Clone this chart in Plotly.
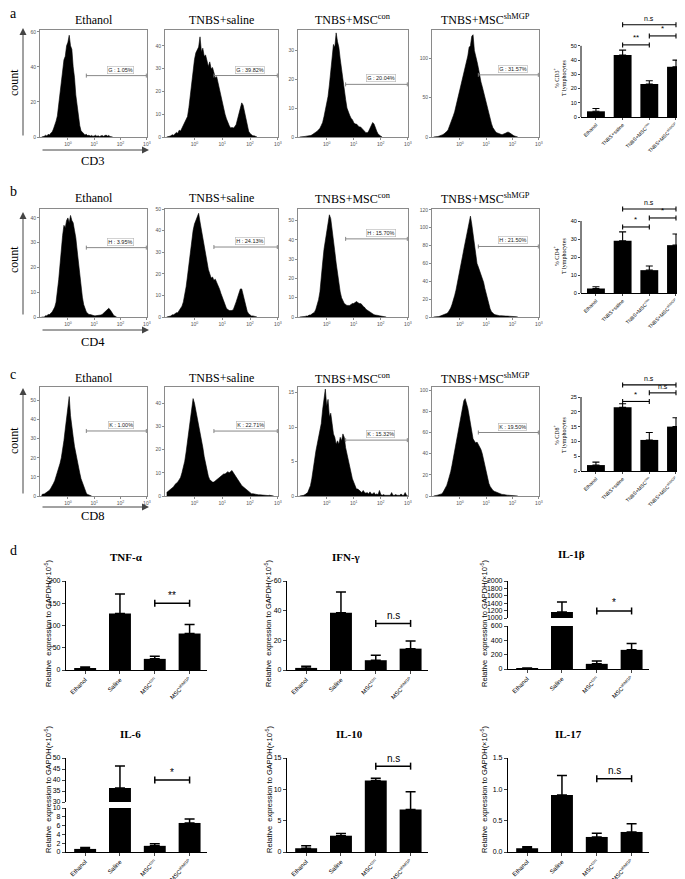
import plotly.graph_objects as go

W, H = 685, 879
SERIF = "Liberation Serif"
SANS = "Liberation Sans"

# ---------------- flow cytometry histograms ----------------
# counts per 0.05-decade bin, first bin centred at 10^-1
LOG_START = -1.0
LOG_STEP = 0.05

CD3_ETHANOL = [0, 0, 0.4, 1, 0.6, 1.5, 1.2, 2.2, 2.8, 4.5, 6.5, 9, 12, 19, 23, 32, 36, 44, 46, 52,
               54, 58, 52, 50, 40, 34, 24, 17, 10, 6.5, 3.5, 2.5, 1.8, 1.2, 1.5, 0.8, 1, 0.5, 0.9, 0.4,
               0.6, 1, 0.4, 0.7, 0.3, 0.6, 0.9, 0.4, 0.8, 1.1, 0.5, 0.9, 0.3, 0.2, 0]
CD3_SALINE = [0, 0, 0.3, 0.5, 1, 0.8, 1.5, 2, 1.6, 3, 2.6, 4, 5.2, 6, 7.5, 9, 13, 18, 24, 30,
              34, 37, 38, 39.5, 44, 37.5, 39, 35.5, 36, 33.5, 31, 33, 30, 30.5, 28, 26, 26.5, 23.5, 21, 18,
              15, 13, 10, 8, 6, 5, 4, 4.2, 4, 4.5, 5.5, 8, 11, 13, 15, 14, 11, 7, 4, 2.5,
              1.5, 1, 0.5, 0.5, 0.2, 0]
CD3_MSC_CON = [0, 0, 0, 0, 0.2, 0.3, 0.3, 0.5, 0.5, 0.7, 1, 1.2, 1.5, 2, 2.5, 3, 4, 5, 7, 9,
               11, 14, 18, 22, 26, 32, 31, 36, 33, 31, 27, 23, 19, 15, 13, 10, 8.5, 7.5, 6.5, 6,
               5, 4.5, 4.5, 4, 3.5, 3.5, 3, 2.5, 2, 1.5, 1.5, 2, 3, 4, 5, 4.5, 3, 2, 1, 0.5,
               0.3, 0]
CD3_MSC_SHMGP = [0, 0, 0, 0.5, 1, 1.5, 2, 3, 4, 5, 7, 9, 13, 17, 22, 27, 32, 39, 46, 53,
                 60, 67, 74, 82, 89, 96, 103, 114, 116, 128, 130, 110, 104, 96, 88, 78, 70, 64, 57, 51,
                 44, 36, 29, 22, 17, 12, 9, 7, 5.5, 4.5, 4, 3.5, 3, 3.5, 4, 5, 6, 6, 5, 3.5,
                 2, 1.5, 1, 0.5, 0]

CD4_ETHANOL = [0, 0, 0, 0.5, 0.5, 1, 1, 1.5, 2, 3, 4, 6, 10, 15, 21, 28, 33, 37, 36, 39,
               40, 38, 41, 39, 38, 35, 32, 27, 22, 17, 12, 8, 5, 3, 2, 1.5, 1, 1, 0.8, 0.5,
               0.5, 0.5, 0.5, 0.5, 0.5, 0.8, 1, 1.5, 2, 2.5, 3, 3.5, 3, 2, 1, 0.5, 0.3, 0]
CD4_SALINE = [0, 0, 0.3, 0.5, 1, 1, 1.5, 2, 2, 3, 4, 5, 7, 10, 14, 19, 24, 30, 36, 40,
              43, 45, 47, 48, 44, 40, 37, 33, 29, 25, 22, 20, 18, 18.5, 17, 17.5, 16, 15, 13, 11,
              9, 7, 5, 4, 3.5, 3, 3, 3, 3.5, 5, 7, 9, 11, 13, 13, 10, 7, 4, 2.5, 1.5,
              1, 0.5, 0.5, 0.3, 0.3, 0]
CD4_MSC_CON = [0, 0, 0, 0, 0.3, 0.5, 0.5, 1, 1, 1.5, 2, 2.5, 4, 6, 9, 13, 19, 28, 35, 40,
               44, 48, 53, 51, 46, 40, 34, 28, 22, 17, 13, 10, 8, 7, 6.5, 6, 6, 6, 6.5, 7,
               7, 7.5, 8, 7.5, 7, 7, 6.5, 5.5, 5, 4, 3.5, 3, 2.5, 2, 1.5, 1.2, 1, 1, 0.8, 0.6,
               0.5, 0.4, 0.3, 0.2, 0]
CD4_MSC_SHMGP = [0, 0, 0, 0.5, 0.5, 1, 1.5, 2, 2.5, 3, 4, 5, 7, 10, 14, 18, 24, 30, 37, 45,
                 52, 60, 68, 76, 84, 92, 98, 106, 113, 104, 92, 80, 68, 60, 56, 52, 49, 45, 39, 32,
                 26, 20, 14, 9, 6, 4, 3, 2.5, 2, 1.8, 1.5, 1.5, 1.2, 1.2, 1, 1, 1, 1, 0.8, 0.8,
                 0.6, 0.5, 0.4, 0.3, 0]

CD8_ETHANOL = [0.5, 1, 1, 1.5, 2, 2.5, 3, 4, 5, 6.5, 8, 10, 12, 15, 17, 20, 24, 29, 35, 42,
               48, 52, 42, 35, 31, 26, 22, 18, 15, 12, 9, 7, 4.5, 2.5, 1.5, 0.8, 0.5, 0.3, 0]
CD8_SALINE = [1.5, 2, 2.5, 3, 3.5, 4, 5, 5.5, 6, 7, 8, 10, 12, 15, 19, 24, 29, 34, 38, 42,
              40, 37, 34, 31, 28, 25, 21, 17, 14, 11, 8.5, 7, 6.5, 6, 6, 6.5, 7, 7.5, 8, 8.5,
              9, 9.5, 9.5, 10, 10.5, 10, 10.5, 11, 10, 9, 8, 7, 6, 5, 4.5, 4, 3.5, 3, 2.5, 2,
              1.5, 1, 1, 0.8, 0.6, 0.5, 0.5, 0.5, 0.4, 0.3, 0.3, 0.3, 0.3, 0.2, 0.3, 0.2, 0.2, 0]
CD8_MSC_CON = [0, 0, 0, 0.1, 0.2, 0.3, 0.5, 1, 1.5, 2.5, 4, 5.5, 6.5, 7.5, 8.5, 9.5, 10.5, 12.5, 14.5, 15.5,
               13, 14, 11.5, 12, 10.5, 9, 8.5, 7.5, 8, 7.5, 8.5, 8, 9, 8.5, 7, 6, 5, 4.5, 3.5, 2.5,
               2, 1.5, 1, 1, 0.8, 0.6, 0.5, 0.8, 0.5, 0.4, 0.5, 0.3, 0.6, 0.3, 0.3, 0.5, 0.2, 0.3, 0.2, 0.8,
               0.2, 0.1, 0.2, 0.1, 0.1, 0.2, 0.1, 0.1, 0.5, 0.1, 0.1, 0.2, 0.1, 0.1, 0.1, 0.3, 0.1, 0.1, 0.5, 0.1, 0]
CD8_MSC_SHMGP = [0, 0, 0.5, 0.8, 1, 1.5, 2, 3, 5, 7, 10, 14, 18, 23, 29, 36, 43, 50, 57, 63,
                 70, 77, 84, 90, 92, 88, 83, 76, 68, 60, 54, 52, 50, 51, 49, 47, 44, 40, 34, 28,
                 22, 17, 12, 9, 7, 5.5, 4.5, 4, 3, 2.5, 2, 2, 1.5, 1.5, 1, 1, 0.8, 0.7, 0.6, 0.5,
                 0.5, 0.4, 0.3, 0.2, 0]

HIST_DATA = [[CD3_ETHANOL, CD3_SALINE, CD3_MSC_CON, CD3_MSC_SHMGP],
             [CD4_ETHANOL, CD4_SALINE, CD4_MSC_CON, CD4_MSC_SHMGP],
             [CD8_ETHANOL, CD8_SALINE, CD8_MSC_CON, CD8_MSC_SHMGP]]

GROUPS = ["Ethanol", "TNBS+saline", "TNBS+MSC<sup>con</sup>", "TNBS+MSC<sup>shMGP</sup>"]
MARKERS = ["CD3", "CD4", "CD8"]
ROW_LETTERS = ["a", "b", "c"]
GATE_LETTERS = ["G", "H", "K"]
GATE_PCT = [[1.05, 39.82, 20.04, 31.57], [3.95, 24.13, 15.70, 21.50], [1.00, 22.71, 15.32, 19.50]]
GATE_LEVEL = [[35, 27, 18.2, 79], [28, 32.4, 40.5, 79], [34, 28, 8.1, 60]]
GATE_FROM, GATE_TO = 0.7, 2.98
HIST_YMAX = [[61, 47, 37, 136], [43.6, 50, 56, 121], [57, 47, 15.8, 103]]
HIST_DTICK = [[20, 10, 10, 50], [10, 10, 10, 20], [10, 10, 5, 20]]
LOG_TICKS = [0, 1, 2, 3]
LOG_TICK_TEXT = ["10<sup>0</sup>", "10<sup>1</sup>", "10<sup>2</sup>", "10<sup>3</sup>"]

# ---------------- % positive T lymphocytes (mean, SEM) ----------------
CD3_MEAN = [4.0, 43.5, 23.2, 35.3]
CD3_SEM = [2.0, 3.5, 2.3, 4.7]
CD4_MEAN = [2.5, 29.0, 12.7, 26.6]
CD4_SEM = [1.0, 5.0, 2.3, 6.2]
CD8_MEAN = [2.0, 21.5, 10.5, 15.0]
CD8_SEM = [1.0, 1.2, 2.5, 3.0]
PCT_TOP_TICK = [50, 40, 25]
PCT_DTICK = [10, 10, 5]
PCT_YMAX = [71, 52.8, 32.1]
CD3_SIG = [(1, 3, 64.8, "n.s"), (1, 2, 50.7, "**"), (2, 3, 57.0, "*")]
CD4_SIG = [(1, 3, 46.7, "n.s"), (1, 2, 36.7, "*"), (2, 3, 41.7, "*")]
CD8_SIG = [(1, 3, 29.1, "n.s"), (2, 3, 26.4, "n.s"), (1, 2, 23.5, "*")]

# ---------------- cytokine expression (mean, SEM; x10^-5 of GAPDH) ----------------
CYTO_CATS = ["Ethanol", "Saline", "MSC<sup>con</sup>", "MSC<sup>shMGP</sup>"]
CAT_POS = [0, 1, 2, 3]
TNF_MEAN = [4, 127, 25, 82]
TNF_SEM = [3, 44, 6, 20]
IFN_MEAN = [1.4, 38.6, 6.6, 14.4]
IFN_SEM = [1.2, 14, 3.3, 5.2]
IL1B_MEAN = [8, 1165, 72, 267]
IL1B_SEM = [6, 270, 40, 90]
IL6_MEAN = [0.7, 36.4, 1.4, 6.6]
IL6_SEM = [0.35, 10, 0.45, 0.9]
IL10_MEAN = [0.6, 2.6, 11.4, 6.8]
IL10_SEM = [0.4, 0.35, 0.35, 2.8]
IL17_MEAN = [0.06, 0.91, 0.24, 0.32]
IL17_SEM = [0.025, 0.31, 0.06, 0.13]

# ---------------- layout geometry (pixels) ----------------
HIST_COLS = [(32, 139), (157, 270), (290, 400), (424, 531)]
HIST_ROWS = [(22, 129), (201, 309), (379, 488)]
TITLE_Y = [12, 190, 370]
ROW_LABEL_Y = [6, 183, 366]
COUNT_Y = [75, 252, 433]
VARROW = [(20, 129), (204, 308), (380, 487)]
HARROW_Y = [142, 322, 499]
MARKER_Y = [153, 334, 508]
PCT_X = (573, 684)
PCT_Y = [(8, 109), (190, 285), (368, 463)]
PCT_LABEL_Y = [70, 248, 427]

CYTO_X = [(58, 199), (279, 420), (500, 641)]


def dx(a, b):
    return [a / W, b / W]


def dy(top, bot):
    return [1 - bot / H, 1 - top / H]


def axkey(p, n):
    return p + "axis" + ("" if n == 1 else str(n))


def ref(p, n):
    return p + ("" if n == 1 else str(n))


fig = go.Figure()
layout = dict(width=W, height=H, margin=dict(l=0, r=0, t=0, b=0), template="none",
              paper_bgcolor="white", plot_bgcolor="white", showlegend=False)
ann = []
shp = []

GRAY = "#8a8a8a"


def label(x, y, text, size, family=SERIF, angle=0):
    ann.append(dict(xref="paper", yref="paper", x=x / W, y=1 - y / H, text=text, showarrow=False,
                    xanchor="center", yanchor="middle", textangle=angle,
                    font=dict(family=family, size=size, color="black")))


# ---- histograms ----
n = 0
for r in range(3):
    for c in range(4):
        n += 1
        vals = HIST_DATA[r][c]
        xs = [LOG_START + LOG_STEP * i for i in range(len(vals))]
        fig.add_trace(go.Scatter(x=xs, y=vals, mode="lines", line=dict(color="black", width=0.6),
                                 fill="tozeroy", fillcolor="black",
                                 xaxis=ref("x", n), yaxis=ref("y", n), hoverinfo="skip"))
        layout[axkey("x", n)] = dict(domain=dx(*HIST_COLS[c]), range=[-1.06, 3.005], anchor=ref("y", n),
                                     showline=True, mirror=True, linecolor=GRAY, linewidth=1,
                                     ticks="outside", ticklen=2, tickwidth=0.6, tickcolor=GRAY,
                                     tickvals=LOG_TICKS, ticktext=LOG_TICK_TEXT,
                                     tickfont=dict(family=SANS, size=5, color="#555"),
                                     showgrid=False, zeroline=False)
        layout[axkey("y", n)] = dict(domain=dy(*HIST_ROWS[r]), range=[0, HIST_YMAX[r][c]], anchor=ref("x", n),
                                     showline=True, mirror=True, linecolor=GRAY, linewidth=1,
                                     ticks="outside", ticklen=2, tickwidth=0.6, tickcolor=GRAY,
                                     tick0=0, dtick=HIST_DTICK[r][c],
                                     tickfont=dict(family=SANS, size=5, color="#555"),
                                     showgrid=False, zeroline=False)
        gy = GATE_LEVEL[r][c]
        xr, yr = ref("x", n), ref("y", n)
        shp.append(dict(type="line", xref=xr, yref=yr, x0=GATE_FROM, x1=GATE_TO, y0=gy, y1=gy,
                        line=dict(color="#7a7a7a", width=0.9)))
        for gx in (GATE_FROM, GATE_TO):
            shp.append(dict(type="line", xref=xr, yref=yr, x0=gx, x1=gx, ysizemode="pixel", yanchor=gy,
                            y0=-2, y1=2, line=dict(color="#7a7a7a", width=0.9)))
        ann.append(dict(xref=xr, yref=yr, x=2.0, y=gy, xanchor="center", yanchor="bottom", yshift=2,
                        showarrow=False, text=f"{GATE_LETTERS[r]} : {GATE_PCT[r][c]:.2f}%",
                        font=dict(family=SANS, size=5.5, color="#222"),
                        bordercolor="#b5b5b5", borderwidth=0.6, borderpad=0.6, bgcolor="white"))
        label((HIST_COLS[c][0] + HIST_COLS[c][1]) / 2, TITLE_Y[r], GROUPS[c], 12)
    # row decorations
    label(5, ROW_LABEL_Y[r], ROW_LETTERS[r], 14)
    label(6, COUNT_Y[r], "count", 12, angle=-90)
    top, bot = VARROW[r]
    ann.append(dict(xref="paper", yref="paper", x=15 / W, y=1 - top / H, ax=0, ay=bot - top,
                    axref="pixel", ayref="pixel", text="", showarrow=True, arrowhead=2, arrowsize=1.4,
                    arrowwidth=1, arrowcolor="#444"))
    ann.append(dict(xref="paper", yref="paper", x=141 / W, y=1 - HARROW_Y[r] / H, ax=-108, ay=0,
                    axref="pixel", ayref="pixel", text="", showarrow=True, arrowhead=2, arrowsize=1.4,
                    arrowwidth=1, arrowcolor="#444"))
    label(85, MARKER_Y[r], MARKERS[r], 12.5)


def bracket(n, i, j, level, text, cap, lw, fsize):
    xr, yr = ref("x", n), ref("y", n)
    shp.append(dict(type="line", xref=xr, yref=yr, x0=i, x1=j, y0=level, y1=level,
                    line=dict(color="black", width=lw)))
    for xx in (i, j):
        shp.append(dict(type="line", xref=xr, yref=yr, x0=xx, x1=xx, ysizemode="pixel", yanchor=level,
                        y0=-cap, y1=cap, line=dict(color="black", width=lw)))
    ann.append(dict(xref=xr, yref=yr, x=(i + j) / 2, y=level, text=text, showarrow=False,
                    xanchor="center", yanchor="bottom", yshift=0.5,
                    font=dict(family=SANS, size=fsize, color="black")))


# ---- % positive bar charts ----
PCT_MEANS = [CD3_MEAN, CD4_MEAN, CD8_MEAN]
PCT_SEMS = [CD3_SEM, CD4_SEM, CD8_SEM]
PCT_SIGS = [CD3_SIG, CD4_SIG, CD8_SIG]
for k in range(3):
    n = 13 + k
    fig.add_trace(go.Bar(x=CAT_POS, y=PCT_MEANS[k], width=0.67, marker=dict(color="black", line=dict(width=0)),
                         error_y=dict(type="data", array=PCT_SEMS[k], arrayminus=[0, 0, 0, 0], symmetric=False,
                                      color="black", thickness=1.1, width=3.5),
                         xaxis=ref("x", n), yaxis=ref("y", n), hoverinfo="skip"))
    layout[axkey("x", n)] = dict(domain=dx(*PCT_X), range=[-0.56, 3.6], anchor=ref("y", n), type="linear",
                                 showline=True, linecolor="black", linewidth=1, ticks="outside", ticklen=2,
                                 tickwidth=0.8, tickvals=CAT_POS, ticktext=GROUPS, tickangle=-45,
                                 tickfont=dict(family=SANS, size=5, color="black"),
                                 showgrid=False, zeroline=False)
    top = PCT_TOP_TICK[k]
    layout[axkey("y", n)] = dict(domain=dy(*PCT_Y[k]), range=[0, PCT_YMAX[k]], anchor=ref("x", n),
                                 showline=False, ticks="outside", ticklen=2, tickwidth=0.8,
                                 tickvals=list(range(0, top + 1, PCT_DTICK[k])),
                                 tickfont=dict(family=SANS, size=5.5, color="black"),
                                 showgrid=False, zeroline=False)
    shp.append(dict(type="line", xref=ref("x", n) + " domain", yref=ref("y", n), x0=0, x1=0, y0=0, y1=top,
                    line=dict(color="black", width=1)))
    for (i, j, lev, lab) in PCT_SIGS[k]:
        bracket(n, i, j, lev, lab, 2.5, 1.1, 7 if lab == "n.s" else 8)
    label(551, PCT_LABEL_Y[k], f"% {MARKERS[k]}<sup>+</sup><br>T lymphocytes", 6, angle=-90)


# ---- cytokine bar charts ----
def cyto_axes(n, xdom, ydom, yrange, tickvals, show_x, fmt=None):
    layout[axkey("x", n)] = dict(domain=dx(*xdom), range=[-0.55, 3.5], anchor=ref("y", n), type="linear",
                                 visible=show_x, showline=True, linecolor="black", linewidth=1.2,
                                 ticks="outside", ticklen=3, tickwidth=1, tickvals=CAT_POS, ticktext=CYTO_CATS,
                                 tickangle=-45, tickfont=dict(family=SANS, size=6, color="black"),
                                 showgrid=False, zeroline=False)
    yd = dict(domain=dy(*ydom), range=yrange, anchor=ref("x", n), showline=True, linecolor="black",
              linewidth=1.2, ticks="outside", ticklen=3, tickwidth=1, tickvals=tickvals,
              tickfont=dict(family=SANS, size=7, color="black"), showgrid=False, zeroline=False)
    if fmt:
        yd["tickformat"] = fmt
    layout[axkey("y", n)] = yd


def cyto_bars(n, means, errs):
    fig.add_trace(go.Bar(x=CAT_POS, y=means, width=0.63, marker=dict(color="black", line=dict(width=0)),
                         error_y=dict(type="data", array=errs, arrayminus=[0, 0, 0, 0], symmetric=False,
                                      color="black", thickness=1.5, width=5),
                         xaxis=ref("x", n), yaxis=ref("y", n), hoverinfo="skip"))


def simple_panel(n, xdom, ydom, yrange, tickvals, means, errs, fmt=None):
    cyto_axes(n, xdom, ydom, yrange, tickvals, True, fmt)
    cyto_bars(n, means, errs)


def broken_panel(n, xdom, ydom_low, ydom_up, r_low, r_up, t_low, t_up, means, errs):
    cyto_axes(n, xdom, ydom_low, r_low, t_low, True)
    cyto_axes(n + 1, xdom, ydom_up, r_up, t_up, False)
    err_low = [e if m <= r_low[1] else 0 for m, e in zip(means, errs)]
    err_up = [e if m >= r_up[0] else 0 for m, e in zip(means, errs)]
    cyto_bars(n, means, err_low)
    cyto_bars(n + 1, means, err_up)


ROW1 = (573, 662)
ROW2 = (750, 844)
simple_panel(16, CYTO_X[0], ROW1, [0, 200], [0, 50, 100, 150, 200], TNF_MEAN, TNF_SEM)
bracket(16, 2, 3, 150, "**", 3.5, 1.5, 10)
simple_panel(17, CYTO_X[1], ROW1, [0, 60], [0, 20, 40, 60], IFN_MEAN, IFN_SEM)
bracket(17, 2, 3, 31.4, "n.s", 3.5, 1.5, 10)
broken_panel(18, CYTO_X[2], (618, 661), (573, 610), [0, 600], [1000, 2000],
             [0, 200, 400, 600], [1000, 1200, 1400, 1600, 1800, 2000], IL1B_MEAN, IL1B_SEM)
bracket(19, 2, 3, 1190, "*", 3.5, 1.5, 10)
broken_panel(20, CYTO_X[0], (800, 844), (750, 794), [0, 10], [30, 50],
             [0, 2, 4, 6, 8, 10], [30, 35, 40, 45, 50], IL6_MEAN, IL6_SEM)
bracket(21, 2, 3, 40, "*", 3.5, 1.5, 10)
simple_panel(22, CYTO_X[1], ROW2, [0, 15], [0, 5, 10, 15], IL10_MEAN, IL10_SEM)
bracket(22, 2, 3, 13.7, "n.s", 3.5, 1.5, 10)
simple_panel(23, CYTO_X[2], ROW2, [0, 1.5], [0, 0.5, 1.0, 1.5], IL17_MEAN, IL17_SEM, fmt=".1f")
bracket(23, 2, 3, 1.17, "n.s", 3.5, 1.5, 10)

CYTO_TITLES = [("TNF-α", 118, 549), ("IFN-γ", 338, 549), ("IL-1β", 563, 546),
               ("IL-6", 122, 726), ("IL-10", 341, 726), ("IL-17", 560, 726)]
for t, x, y in CYTO_TITLES:
    label(x, y, f"<b>{t}</b>", 11)
YLAB = "Relative  expression to GAPDH(×10<sup>-5</sup>)"
for x, y in [(40, 615), (260, 615), (476, 615), (40, 781), (261, 781), (476, 781)]:
    label(x, y, YLAB, 7.5, family=SANS, angle=-90)
label(5, 542, "d", 14)

layout["annotations"] = ann
layout["shapes"] = shp
fig.update_layout(**layout)
fig.write_html("out.html")
